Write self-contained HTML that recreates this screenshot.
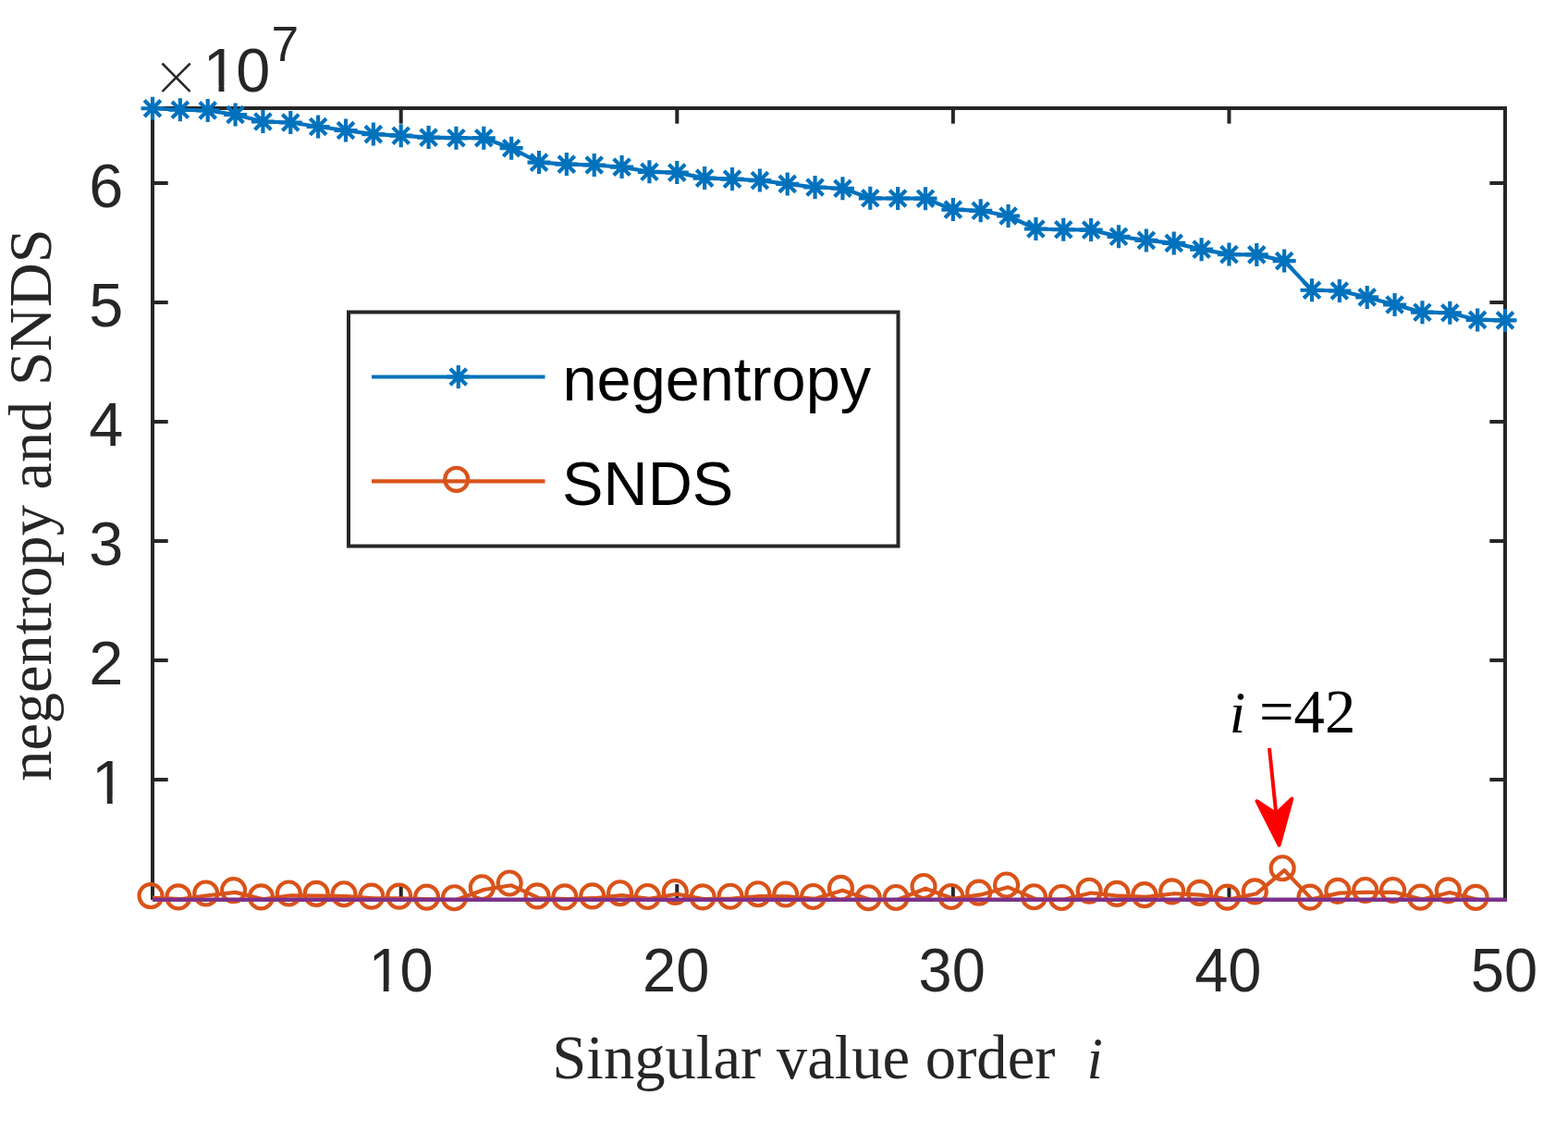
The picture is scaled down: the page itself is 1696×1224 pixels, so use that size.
<!DOCTYPE html>
<html lang="en"><head><meta charset="utf-8"><title>negentropy and SNDS versus singular value order</title>
<style>html,body{margin:0;padding:0;background:#fff;overflow:hidden}svg{display:block}.sans{font-family:"Liberation Sans",Arial,Helvetica,sans-serif}.serif{font-family:"Liberation Serif","Times New Roman",Times,serif}</style></head><body>
<svg width="1696" height="1224" viewBox="0 0 1696 1224" role="img" aria-label="negentropy and SNDS versus singular value order">
<rect x="0" y="0" width="1696" height="1224" fill="#ffffff"/>
<g stroke="#262626" stroke-width="4" fill="none" stroke-linecap="butt">
<line x1="163" y1="117" x2="1630" y2="117"/>
<line x1="165" y1="115" x2="165" y2="973"/>
<line x1="1628" y1="115" x2="1628" y2="973"/>
<line x1="165" y1="972.8" x2="1630" y2="972.8" stroke-width="3.9"/>
<line x1="433.71" y1="972.8" x2="433.71" y2="956.1"/>
<line x1="433.71" y1="117" x2="433.71" y2="133.7"/>
<line x1="732.29" y1="972.8" x2="732.29" y2="956.1"/>
<line x1="732.29" y1="117" x2="732.29" y2="133.7"/>
<line x1="1030.86" y1="972.8" x2="1030.86" y2="956.1"/>
<line x1="1030.86" y1="117" x2="1030.86" y2="133.7"/>
<line x1="1329.43" y1="972.8" x2="1329.43" y2="956.1"/>
<line x1="1329.43" y1="117" x2="1329.43" y2="133.7"/>
<line x1="165" y1="843" x2="181.7" y2="843"/>
<line x1="1628" y1="843" x2="1611.3" y2="843"/>
<line x1="165" y1="714" x2="181.7" y2="714"/>
<line x1="1628" y1="714" x2="1611.3" y2="714"/>
<line x1="165" y1="585" x2="181.7" y2="585"/>
<line x1="1628" y1="585" x2="1611.3" y2="585"/>
<line x1="165" y1="456" x2="181.7" y2="456"/>
<line x1="1628" y1="456" x2="1611.3" y2="456"/>
<line x1="165" y1="327" x2="181.7" y2="327"/>
<line x1="1628" y1="327" x2="1611.3" y2="327"/>
<line x1="165" y1="198" x2="181.7" y2="198"/>
<line x1="1628" y1="198" x2="1611.3" y2="198"/>
</g>
<g class="sans" font-size="66.67" fill="#262626">
<g transform="translate(432.61 1071.5) scale(0.975 1)"><text font-size="66.67"><tspan x="-35.08">1</tspan><tspan x="0">0</tspan></text><rect x="-31.17" y="-6.19" width="12.86" height="7.49" fill="#ffffff"/><rect x="-12.42" y="-6.19" width="12.34" height="7.49" fill="#ffffff"/></g>
<g transform="translate(731.19 1071.5) scale(0.975 1)"><text x="-37.08" font-size="66.67">20</text></g>
<g transform="translate(1029.76 1071.5) scale(0.975 1)"><text x="-37.08" font-size="66.67">30</text></g>
<g transform="translate(1328.33 1071.5) scale(0.975 1)"><text x="-37.08" font-size="66.67">40</text></g>
<g transform="translate(1626.9 1071.5) scale(0.975 1)"><text x="-37.08" font-size="66.67">50</text></g>
<g transform="translate(133.3 868.8)"><text font-size="66.67"><tspan x="-34.28">1</tspan></text><rect x="-30.37" y="-6.19" width="12.86" height="7.49" fill="#ffffff"/><rect x="-11.62" y="-6.19" width="12.34" height="7.49" fill="#ffffff"/></g>
<g transform="translate(133.3 739.8)"><text x="-37.08" font-size="66.67">2</text></g>
<g transform="translate(133.3 610.8)"><text x="-37.08" font-size="66.67">3</text></g>
<g transform="translate(133.3 481.8)"><text x="-37.08" font-size="66.67">4</text></g>
<g transform="translate(133.3 352.8)"><text x="-37.08" font-size="66.67">5</text></g>
<g transform="translate(133.3 223.8)"><text x="-37.08" font-size="66.67">6</text></g>
<text class="serif" x="166.86" y="112" font-size="84.3" stroke="#ffffff" stroke-width="1.6">×</text>
<g transform="translate(218.2 98.8)"><text font-size="66.67"><tspan x="1.6">1</tspan><tspan x="37.08">0</tspan></text><rect x="5.51" y="-6.19" width="12.86" height="7.49" fill="#ffffff"/><rect x="24.26" y="-6.19" width="12.34" height="7.49" fill="#ffffff"/></g>
<text x="293.5" y="66" font-size="53.3">7</text>
</g>
<g class="serif" font-size="66.67" fill="#262626">
<text x="597.3" y="1165.6">Singular value order</text>
<text x="1175.5" y="1165.6" font-style="italic" font-size="62.5">i</text>
<text transform="translate(55 844.8) rotate(-90)" x="0" y="0" font-size="66.4">negentropy and SNDS</text>
</g>
<g stroke="#0072BD" stroke-width="4.17" fill="none" stroke-linejoin="round" stroke-linecap="butt">
<polyline points="165,117.25 194.86,118.75 224.71,119.4 254.57,124 284.43,131.5 314.29,132.5 344.14,137 374,141 403.86,145.1 433.71,146.7 463.57,148.6 493.43,149.2 523.29,149.25 553.14,160.2 583,175.6 612.86,177.6 642.71,178.5 672.57,180.6 702.43,185.8 732.29,186.6 762.14,192.6 792,193.6 821.86,195.1 851.71,198.9 881.57,202.5 911.43,203.75 941.29,214.3 971.14,214.5 1001,214.7 1030.86,226.6 1060.71,227.8 1090.57,233.5 1120.43,247.5 1150.29,248.25 1180.14,248.6 1210,255.8 1239.86,259.9 1269.71,262.9 1299.57,269.65 1329.43,275.1 1359.29,275.4 1389.14,282.1 1419,313.75 1448.86,314.5 1478.71,321.4 1508.57,329.5 1538.43,337.7 1568.29,338.25 1598.14,345.9 1628,346.4"/>
<path stroke-width="4.17" d="M152.5 117.25H177.5M165 104.75V129.75M156.16 108.41L173.84 126.09M156.16 126.09L173.84 108.41M182.36 118.75H207.36M194.86 106.25V131.25M186.02 109.91L203.7 127.59M186.02 127.59L203.7 109.91M212.21 119.4H237.21M224.71 106.9V131.9M215.88 110.56L233.55 128.24M215.88 128.24L233.55 110.56M242.07 124H267.07M254.57 111.5V136.5M245.73 115.16L263.41 132.84M245.73 132.84L263.41 115.16M271.93 131.5H296.93M284.43 119V144M275.59 122.66L293.27 140.34M275.59 140.34L293.27 122.66M301.79 132.5H326.79M314.29 120V145M305.45 123.66L323.12 141.34M305.45 141.34L323.12 123.66M331.64 137H356.64M344.14 124.5V149.5M335.3 128.16L352.98 145.84M335.3 145.84L352.98 128.16M361.5 141H386.5M374 128.5V153.5M365.16 132.16L382.84 149.84M365.16 149.84L382.84 132.16M391.36 145.1H416.36M403.86 132.6V157.6M395.02 136.26L412.7 153.94M395.02 153.94L412.7 136.26M421.21 146.7H446.21M433.71 134.2V159.2M424.88 137.86L442.55 155.54M424.88 155.54L442.55 137.86M451.07 148.6H476.07M463.57 136.1V161.1M454.73 139.76L472.41 157.44M454.73 157.44L472.41 139.76M480.93 149.2H505.93M493.43 136.7V161.7M484.59 140.36L502.27 158.04M484.59 158.04L502.27 140.36M510.79 149.25H535.79M523.29 136.75V161.75M514.45 140.41L532.12 158.09M514.45 158.09L532.12 140.41M540.64 160.2H565.64M553.14 147.7V172.7M544.3 151.36L561.98 169.04M544.3 169.04L561.98 151.36M570.5 175.6H595.5M583 163.1V188.1M574.16 166.76L591.84 184.44M574.16 184.44L591.84 166.76M600.36 177.6H625.36M612.86 165.1V190.1M604.02 168.76L621.7 186.44M604.02 186.44L621.7 168.76M630.21 178.5H655.21M642.71 166V191M633.88 169.66L651.55 187.34M633.88 187.34L651.55 169.66M660.07 180.6H685.07M672.57 168.1V193.1M663.73 171.76L681.41 189.44M663.73 189.44L681.41 171.76M689.93 185.8H714.93M702.43 173.3V198.3M693.59 176.96L711.27 194.64M693.59 194.64L711.27 176.96M719.79 186.6H744.79M732.29 174.1V199.1M723.45 177.76L741.12 195.44M723.45 195.44L741.12 177.76M749.64 192.6H774.64M762.14 180.1V205.1M753.3 183.76L770.98 201.44M753.3 201.44L770.98 183.76M779.5 193.6H804.5M792 181.1V206.1M783.16 184.76L800.84 202.44M783.16 202.44L800.84 184.76M809.36 195.1H834.36M821.86 182.6V207.6M813.02 186.26L830.7 203.94M813.02 203.94L830.7 186.26M839.21 198.9H864.21M851.71 186.4V211.4M842.88 190.06L860.55 207.74M842.88 207.74L860.55 190.06M869.07 202.5H894.07M881.57 190V215M872.73 193.66L890.41 211.34M872.73 211.34L890.41 193.66M898.93 203.75H923.93M911.43 191.25V216.25M902.59 194.91L920.27 212.59M902.59 212.59L920.27 194.91M928.79 214.3H953.79M941.29 201.8V226.8M932.45 205.46L950.12 223.14M932.45 223.14L950.12 205.46M958.64 214.5H983.64M971.14 202V227M962.3 205.66L979.98 223.34M962.3 223.34L979.98 205.66M988.5 214.7H1013.5M1001 202.2V227.2M992.16 205.86L1009.84 223.54M992.16 223.54L1009.84 205.86M1018.36 226.6H1043.36M1030.86 214.1V239.1M1022.02 217.76L1039.7 235.44M1022.02 235.44L1039.7 217.76M1048.21 227.8H1073.21M1060.71 215.3V240.3M1051.88 218.96L1069.55 236.64M1051.88 236.64L1069.55 218.96M1078.07 233.5H1103.07M1090.57 221V246M1081.73 224.66L1099.41 242.34M1081.73 242.34L1099.41 224.66M1107.93 247.5H1132.93M1120.43 235V260M1111.59 238.66L1129.27 256.34M1111.59 256.34L1129.27 238.66M1137.79 248.25H1162.79M1150.29 235.75V260.75M1141.45 239.41L1159.12 257.09M1141.45 257.09L1159.12 239.41M1167.64 248.6H1192.64M1180.14 236.1V261.1M1171.3 239.76L1188.98 257.44M1171.3 257.44L1188.98 239.76M1197.5 255.8H1222.5M1210 243.3V268.3M1201.16 246.96L1218.84 264.64M1201.16 264.64L1218.84 246.96M1227.36 259.9H1252.36M1239.86 247.4V272.4M1231.02 251.06L1248.7 268.74M1231.02 268.74L1248.7 251.06M1257.21 262.9H1282.21M1269.71 250.4V275.4M1260.88 254.06L1278.55 271.74M1260.88 271.74L1278.55 254.06M1287.07 269.65H1312.07M1299.57 257.15V282.15M1290.73 260.81L1308.41 278.49M1290.73 278.49L1308.41 260.81M1316.93 275.1H1341.93M1329.43 262.6V287.6M1320.59 266.26L1338.27 283.94M1320.59 283.94L1338.27 266.26M1346.79 275.4H1371.79M1359.29 262.9V287.9M1350.45 266.56L1368.12 284.24M1350.45 284.24L1368.12 266.56M1376.64 282.1H1401.64M1389.14 269.6V294.6M1380.3 273.26L1397.98 290.94M1380.3 290.94L1397.98 273.26M1406.5 313.75H1431.5M1419 301.25V326.25M1410.16 304.91L1427.84 322.59M1410.16 322.59L1427.84 304.91M1436.36 314.5H1461.36M1448.86 302V327M1440.02 305.66L1457.7 323.34M1440.02 323.34L1457.7 305.66M1466.21 321.4H1491.21M1478.71 308.9V333.9M1469.88 312.56L1487.55 330.24M1469.88 330.24L1487.55 312.56M1496.07 329.5H1521.07M1508.57 317V342M1499.73 320.66L1517.41 338.34M1499.73 338.34L1517.41 320.66M1525.93 337.7H1550.93M1538.43 325.2V350.2M1529.59 328.86L1547.27 346.54M1529.59 346.54L1547.27 328.86M1555.79 338.25H1580.79M1568.29 325.75V350.75M1559.45 329.41L1577.12 347.09M1559.45 347.09L1577.12 329.41M1585.64 345.9H1610.64M1598.14 333.4V358.4M1589.3 337.06L1606.98 354.74M1589.3 354.74L1606.98 337.06M1615.5 346.4H1640.5M1628 333.9V358.9M1619.16 337.56L1636.84 355.24M1619.16 355.24L1636.84 337.56"/>
</g>
<g stroke="#D95319" stroke-width="4.17" fill="none" stroke-linejoin="round" stroke-linecap="butt">
<polyline points="165,970.9 194.86,972.2 224.71,968.3 254.57,964.9 284.43,972.2 314.29,968.3 344.14,968.7 374,969.05 403.86,971.4 433.71,971.4 463.57,972.4 493.43,973.05 523.29,962.05 553.14,957.3 583,971.2 612.86,972.2 642.71,971.2 672.57,968.05 702.43,971.8 732.29,966.8 762.14,972.2 792,971.55 821.86,969.05 851.71,969.3 881.57,971.8 911.43,962.7 941.29,973.05 971.14,972.8 1001,960.8 1030.86,971.8 1060.71,967.4 1090.57,959.3 1120.43,972.05 1150.29,972.8 1180.14,965.55 1210,968.7 1239.86,969.9 1269.71,966.2 1299.57,967.7 1329.43,972.45 1359.29,966.2 1389.14,941.05 1419,972.4 1448.86,965.6 1478.71,964.8 1508.57,964.8 1538.43,972.5 1568.29,965.1 1598.14,972.7"/>
<circle cx="163" cy="968.6" r="12.5"/>
<circle cx="192.86" cy="969.9" r="12.5"/>
<circle cx="222.71" cy="966" r="12.5"/>
<circle cx="252.57" cy="962.6" r="12.5"/>
<circle cx="282.43" cy="969.9" r="12.5"/>
<circle cx="312.29" cy="966" r="12.5"/>
<circle cx="342.14" cy="966.4" r="12.5"/>
<circle cx="372" cy="966.75" r="12.5"/>
<circle cx="401.86" cy="969.1" r="12.5"/>
<circle cx="431.71" cy="969.1" r="12.5"/>
<circle cx="461.57" cy="970.1" r="12.5"/>
<circle cx="491.43" cy="970.75" r="12.5"/>
<circle cx="521.29" cy="959.75" r="12.5"/>
<circle cx="551.14" cy="955" r="12.5"/>
<circle cx="581" cy="968.9" r="12.5"/>
<circle cx="610.86" cy="969.9" r="12.5"/>
<circle cx="640.71" cy="968.9" r="12.5"/>
<circle cx="670.57" cy="965.75" r="12.5"/>
<circle cx="700.43" cy="969.5" r="12.5"/>
<circle cx="730.29" cy="964.5" r="12.5"/>
<circle cx="760.14" cy="969.9" r="12.5"/>
<circle cx="790" cy="969.25" r="12.5"/>
<circle cx="819.86" cy="966.75" r="12.5"/>
<circle cx="849.71" cy="967" r="12.5"/>
<circle cx="879.57" cy="969.5" r="12.5"/>
<circle cx="909.43" cy="960.4" r="12.5"/>
<circle cx="939.29" cy="970.75" r="12.5"/>
<circle cx="969.14" cy="970.5" r="12.5"/>
<circle cx="999" cy="958.5" r="12.5"/>
<circle cx="1028.86" cy="969.5" r="12.5"/>
<circle cx="1058.71" cy="965.1" r="12.5"/>
<circle cx="1088.57" cy="957" r="12.5"/>
<circle cx="1118.43" cy="969.75" r="12.5"/>
<circle cx="1148.29" cy="970.5" r="12.5"/>
<circle cx="1178.14" cy="963.25" r="12.5"/>
<circle cx="1208" cy="966.4" r="12.5"/>
<circle cx="1237.86" cy="967.6" r="12.5"/>
<circle cx="1267.71" cy="963.9" r="12.5"/>
<circle cx="1297.57" cy="965.4" r="12.5"/>
<circle cx="1327.43" cy="970.15" r="12.5"/>
<circle cx="1357.29" cy="963.9" r="12.5"/>
<circle cx="1387.14" cy="938.75" r="12.5"/>
<circle cx="1417" cy="970.1" r="12.5"/>
<circle cx="1446.86" cy="963.3" r="12.5"/>
<circle cx="1476.71" cy="962.5" r="12.5"/>
<circle cx="1506.57" cy="962.5" r="12.5"/>
<circle cx="1536.43" cy="970.2" r="12.5"/>
<circle cx="1566.29" cy="962.8" r="12.5"/>
<circle cx="1596.14" cy="970.4" r="12.5"/>
</g>
<line x1="165" y1="972.75" x2="1629.8" y2="972.75" stroke="#7E2F8E" stroke-width="3.9"/>
<rect x="377" y="337.5" width="594.5" height="253" fill="#ffffff" stroke="#262626" stroke-width="4"/>
<g stroke="#0072BD" stroke-width="4.17" fill="none">
<line x1="402" y1="407.5" x2="589.5" y2="407.5"/>
<path d="M483.25 407.5H508.25M495.75 395V420M486.91 398.66L504.59 416.34M486.91 416.34L504.59 398.66"/>
</g>
<g stroke="#D95319" stroke-width="4.17" fill="none">
<line x1="402" y1="520.35" x2="589.5" y2="520.35"/>
<circle cx="493.68" cy="518.36" r="12.5"/>
</g>
<g class="sans" font-size="66.67" fill="#000000">
<text x="608.5" y="433.3">negentropy</text>
<text x="608.1" y="545.8">SNDS</text>
</g>
<g class="serif" font-size="66.67" fill="#000000">
<text x="1329.8" y="792.2" font-style="italic" font-size="62.5">i</text>
<text x="1362" y="792.2">=42</text>
</g>
<g fill="#FF0000" stroke="#FF0000">
<line x1="1372.96" y1="808.9" x2="1380.6" y2="883" stroke-width="4"/>
<polygon points="1383.6,913.8 1359.4,866.2 1380.3,880 1397.3,863.6" stroke-width="4" stroke-linejoin="round"/>
</g>
</svg></body></html>
